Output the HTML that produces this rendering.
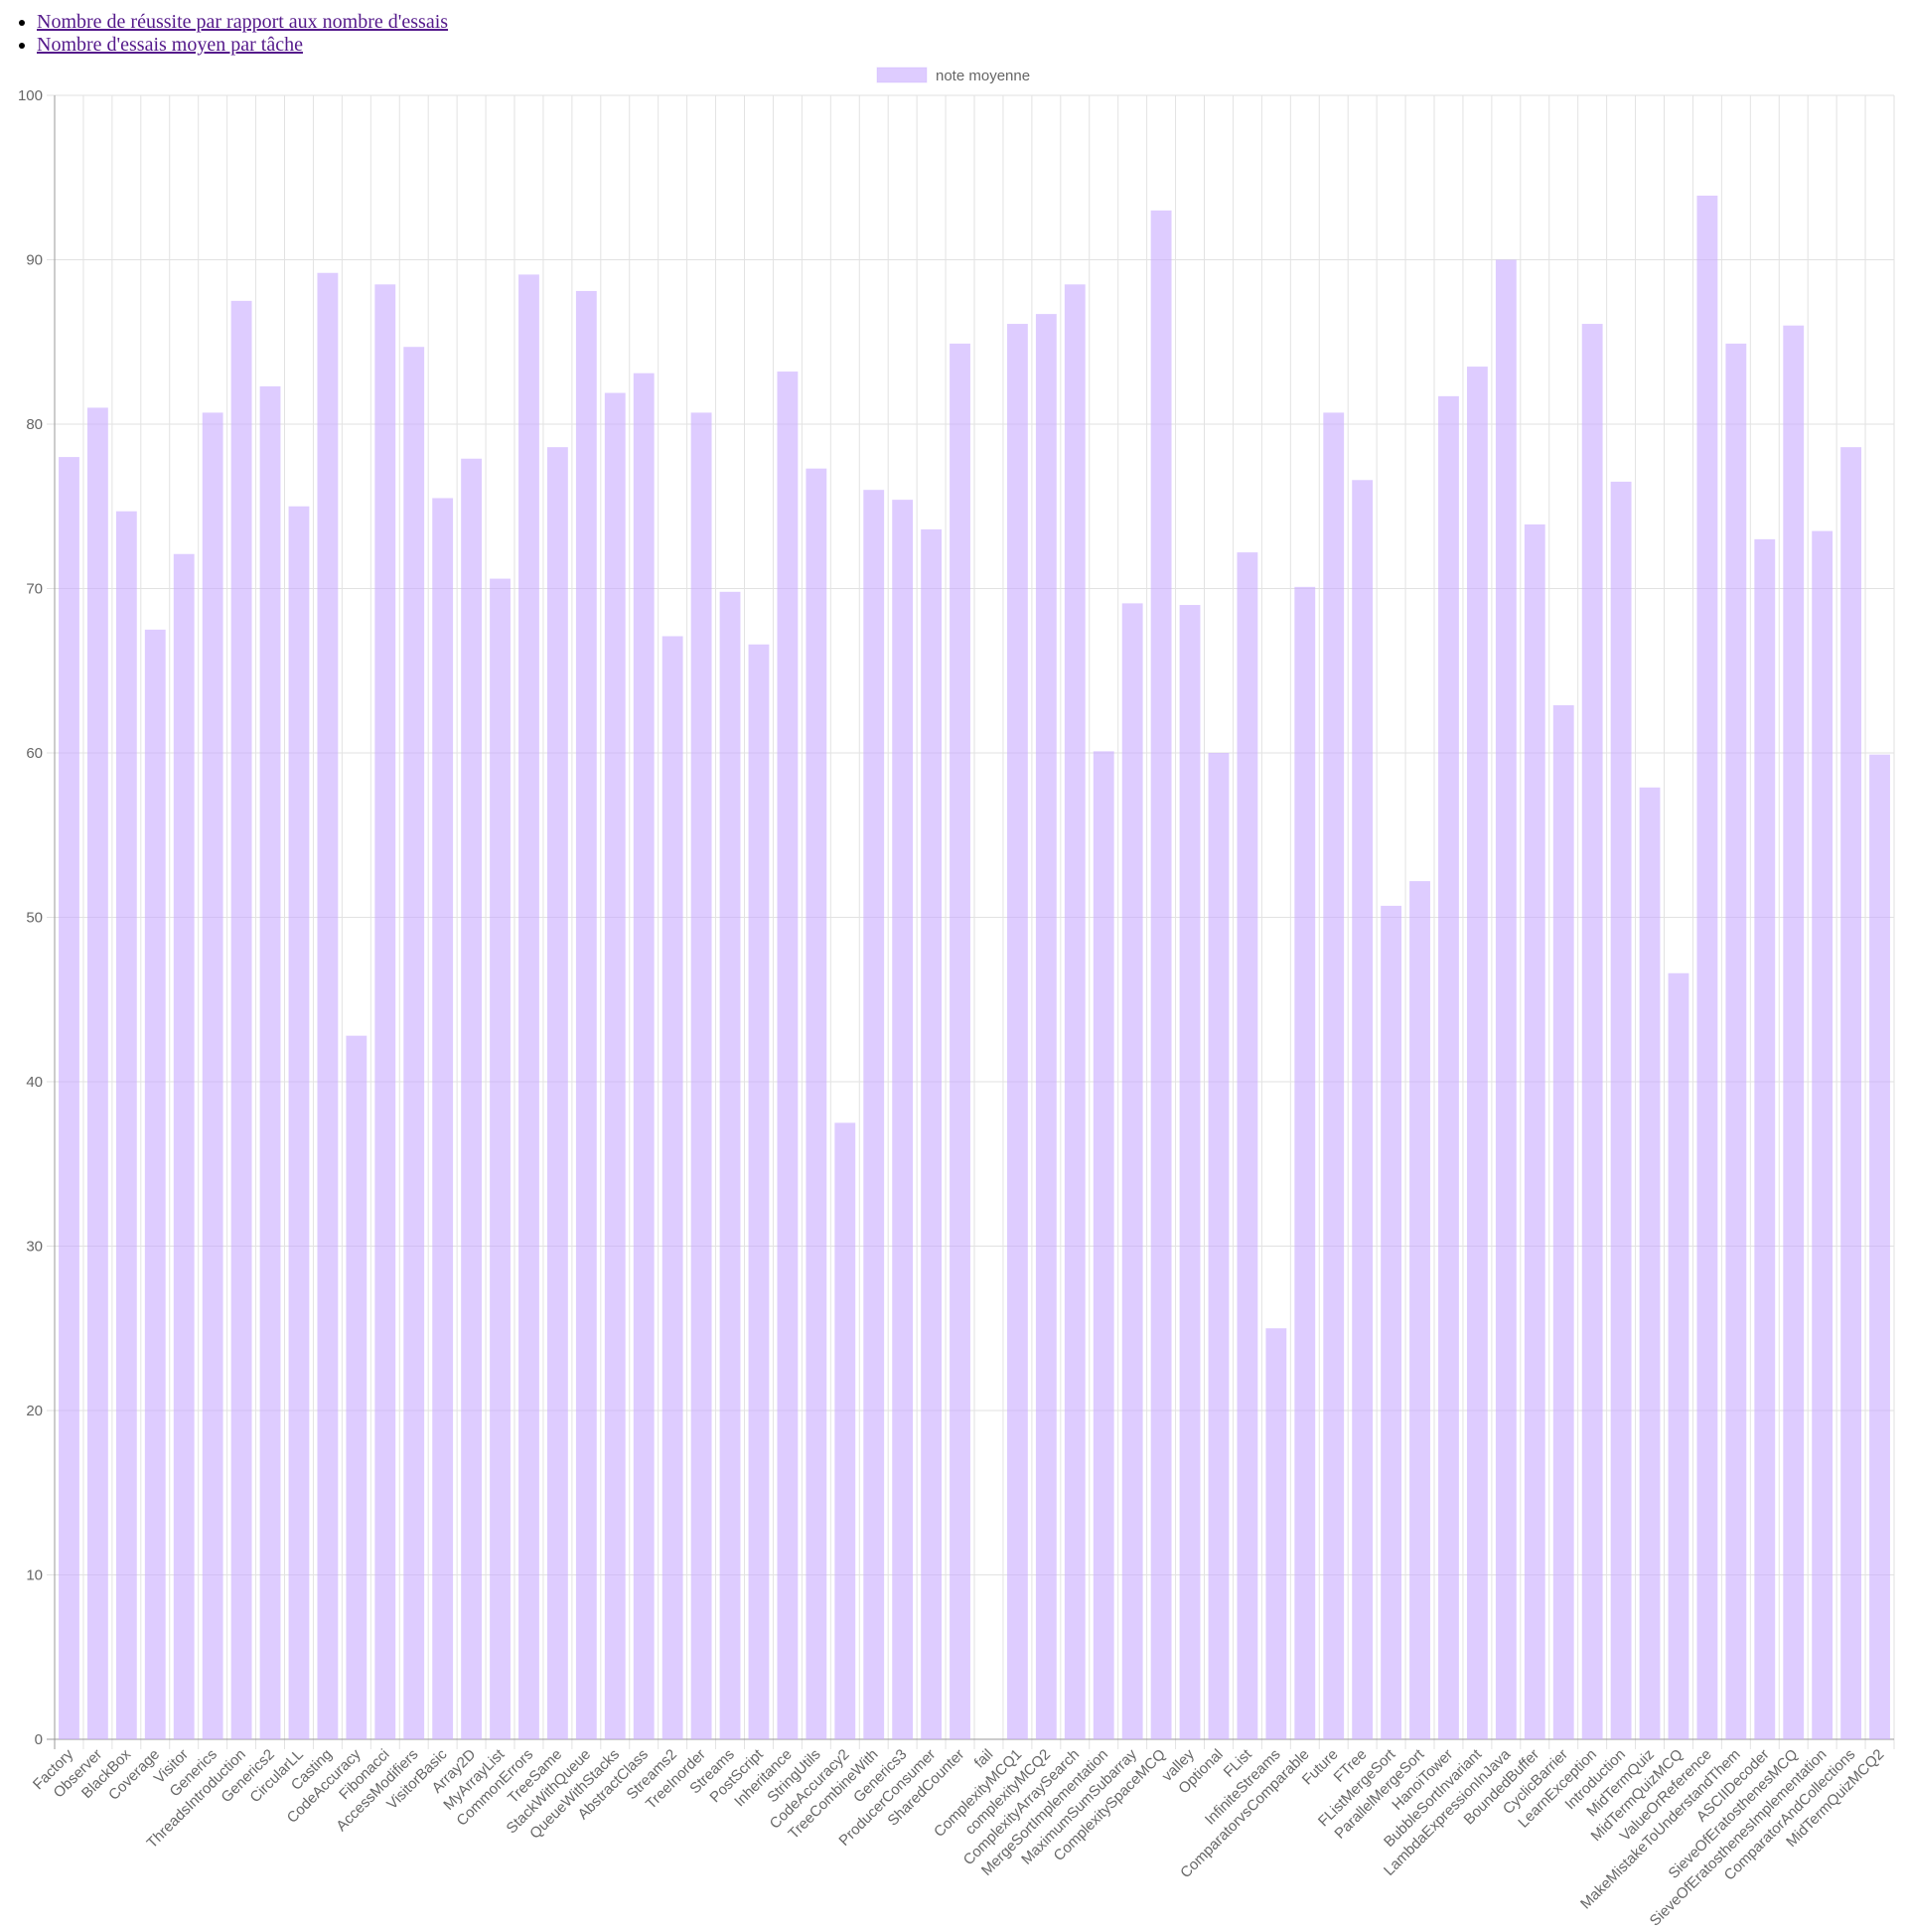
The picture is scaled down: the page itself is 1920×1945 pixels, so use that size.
<!DOCTYPE html>
<html><head><meta charset="utf-8"><style>
body{margin:0;background:#fff;width:1920px;height:1945px;overflow:hidden;font-family:"Liberation Serif",serif}
ul{position:absolute;left:0;top:11px;margin:0;padding:0 0 0 37px;font-size:20px;line-height:23px}
a{color:#551A8B}
svg{position:absolute;left:0;top:0}
</style></head><body>
<ul>
<li><a href="#">Nombre de réussite par rapport aux nombre d'essais</a></li>
<li><a href="#">Nombre d'essais moyen par tâche</a></li>
</ul>
<svg id="chart" width="1920" height="1945" font-family="Liberation Sans, sans-serif"></svg>
<script>
const categories=["Factory","Observer","BlackBox","Coverage","Visitor","Generics","ThreadsIntroduction","Generics2","CircularLL","Casting","CodeAccuracy","Fibonacci","AccessModifiers","VisitorBasic","Array2D","MyArrayList","CommonErrors","TreeSame","StackWithQueue","QueueWithStacks","AbstractClass","Streams2","TreeInorder","Streams","PostScript","Inheritance","StringUtils","CodeAccuracy2","TreeCombineWith","Generics3","ProducerConsumer","SharedCounter","fail","ComplexityMCQ1","complexityMCQ2","ComplexityArraySearch","MergeSortImplementation","MaximumSumSubarray","ComplexitySpaceMCQ","valley","Optional","FList","InfiniteStreams","ComparatorvsComparable","Future","FTree","FListMergeSort","ParallelMergeSort","HanoiTower","BubbleSortInvariant","LambdaExpressionInJava","BoundedBuffer","CyclicBarrier","LearnException","Introduction","MidTermQuiz","MidTermQuizMCQ","ValueOrReference","MakeMistakeToUnderstandThem","ASCIIDecoder","SieveOfEratosthenesMCQ","SieveOfEratosthenesImplementation","ComparatorAndCollections","MidTermQuizMCQ2"];
const noteMoyenne=[78.0,81,74.7,67.5,72.1,80.7,87.5,82.3,75.0,89.2,42.8,88.5,84.7,75.5,77.9,70.6,89.1,78.6,88.1,81.9,83.1,67.1,80.7,69.8,66.6,83.2,77.3,37.5,76.0,75.4,73.6,84.9,0,86.1,86.7,88.5,60.1,69.1,93.0,69.0,60.0,72.2,25.0,70.1,80.7,76.6,50.7,52.2,81.7,83.5,90.0,73.9,62.9,86.1,76.5,57.9,46.6,93.9,84.9,73.0,86.0,73.5,78.6,59.9];
const yTicks=[0,10,20,30,40,50,60,70,80,90,100];
const svg=document.getElementById('chart');const NS='http://www.w3.org/2000/svg';
const L=55,R=1907,T=96,B=1751,yMax=100;
const bw=(R-L)/categories.length;
const x=i=>L+i*bw, y=v=>B-(v/yMax)*(B-T);
function mk(t,a,p){const e=document.createElementNS(NS,t);for(const k in a)e.setAttribute(k,a[k]);(p||svg).appendChild(e);return e;}
yTicks.forEach(t=>{const g=mk('line',{x1:L-8,x2:R,y1:y(t),y2:y(t),stroke:t===0?'#999':'#e2e2e2','stroke-width':1});


const lb=mk('text',{x:L-12,y:y(t)+5,'text-anchor':'end','font-size':15,fill:'#666'});lb.textContent=t;

});
for(let i=0;i<=categories.length;i++){const g=mk('line',{x1:x(i),x2:x(i),y1:T,y2:B+10,stroke:i===0?'#999':'#e2e2e2','stroke-width':1});

}
mk('line',{x1:L,x2:R,y1:B,y2:B,stroke:'#999'});
noteMoyenne.forEach((v,i)=>{const w=bw*0.72;const r=mk('rect',{x:x(i)+(bw-w)/2,y:y(v),width:w,height:B-y(v),fill:'rgba(200,170,255,0.6)'});

});
categories.forEach((c,i)=>{const cx=x(i)+bw/2+5,cy=B+16;const t=mk('text',{x:cx,y:cy,'text-anchor':'end','font-size':15,fill:'#666',transform:`rotate(-45 ${cx} ${cy})`});t.textContent=c;

});
const lg=mk('g',{});

mk('rect',{x:883,y:68,width:50,height:15,fill:'rgba(200,170,255,0.6)',stroke:'rgba(200,170,255,0.3)'},lg);
const lt=mk('text',{x:942,y:81,'font-size':15,fill:'#666'},lg);lt.textContent='note moyenne';
</script>
</body></html>
